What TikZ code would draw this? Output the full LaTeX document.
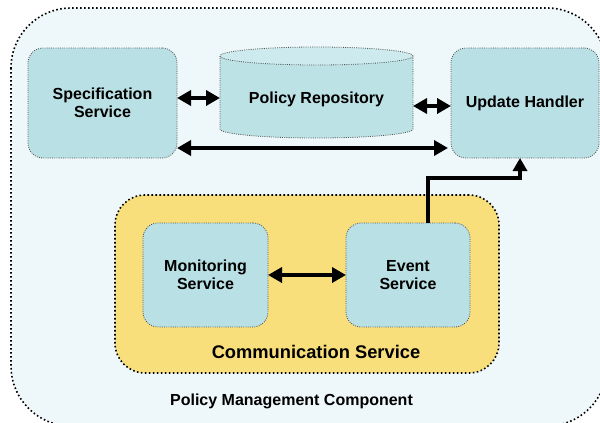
\documentclass[tikz,border=0pt]{standalone}
\usepackage{fontspec}
\setmainfont{Liberation Sans}
\usetikzlibrary{arrows.meta,calc}

\definecolor{outerfill}{HTML}{EEF7F9}
\definecolor{boxfill}{HTML}{B9E0E4}
\definecolor{cylbody}{HTML}{BDE2E6}
\definecolor{cyltop}{HTML}{CDEBEE}
\definecolor{commfill}{HTML}{F8DF7C}
\definecolor{edgegray}{HTML}{505050}

\tikzset{
  finedots/.style={draw=edgegray, line width=0.8pt, dash pattern=on 0.9pt off 1.3pt},
  svcbox/.style={finedots, fill=boxfill, rounded corners=15pt, outer sep=0pt, align=center,
    font=\fontsize{16}{18.5}\selectfont\bfseries},
  thickdots/.style={draw=black, line width=1.6pt, dash pattern=on 1.6pt off 2.4pt},
  conn/.style={line width=3.5pt, draw=black},
  twoway/.style={conn, {Triangle[length=14pt,width=15pt]}-{Triangle[length=14pt,width=15pt]}},
  oneway/.style={conn, -{Triangle[length=13pt,width=14pt]}},
  label/.style={font=\fontsize{16}{18}\selectfont\bfseries, inner sep=0pt},
}

\begin{document}
\begin{tikzpicture}[x=1pt, y=-1pt]
  \useasboundingbox (0,0) rectangle (600,423);
  \clip (0,0) rectangle (600,423);

  % outer component frame
  \path[fill=outerfill, thickdots, rounded corners=60pt] (11,8) rectangle (607,426);

  % communication service container
  \node[fill=commfill, thickdots, rounded corners=30pt, minimum width=384pt,
        minimum height=178pt, outer sep=0pt] (comm) at (307,284) {};

  % service boxes
  \node[svcbox, minimum width=149pt, minimum height=110pt] (spec) at (102.5,103)
       {Specification\\Service};
  \node[svcbox, minimum width=148pt, minimum height=110pt] (upd) at (525,103)
       {Update Handler};
  \node[svcbox, minimum width=125pt, minimum height=104pt] (mon) at (205.5,275)
       {Monitoring\\Service};
  \node[svcbox, minimum width=124pt, minimum height=104pt] (evt) at (408,275)
       {Event\\Service};

  % policy repository cylinder
  \path[fill=cylbody] (220,56) -- (220,129)
       arc[start angle=180, end angle=360, x radius=96.5pt, y radius=9pt]
       -- (413,56) -- cycle;
  \draw[finedots] (220,56) -- (220,129)
       arc[start angle=180, end angle=360, x radius=96.5pt, y radius=9pt]
       -- (413,56);
  \path[finedots, fill=cyltop] (316.5,56) ellipse[x radius=96.5pt, y radius=9pt];
  \node[minimum width=193pt, minimum height=82pt, outer sep=0pt, inner sep=0pt,
        font=\fontsize{16}{18}\selectfont\bfseries] (repo) at (316.5,99) {Policy Repository};

  % captions
  \node[label, font=\fontsize{18.3}{21}\selectfont\bfseries] (commlbl) at (316,352) {Communication Service};
  \node[label] (pmclbl) at (291.5,401) {Policy Management Component};

  % connectors
  \draw[twoway] ([yshift=5pt]spec.east) -- ([yshift=5pt]spec.east -| repo.west);
  \draw[twoway] ([yshift=-3pt]upd.west -| repo.east) -- ([yshift=-3pt]upd.west);
  \draw[twoway] ([yshift=-45pt]spec.east) -- ([yshift=-45pt,xshift=-3pt]upd.west);
  \draw[twoway] (mon.east) -- (evt.west);
  \draw[oneway] ([xshift=20pt]evt.north) |- ([xshift=-5pt,yshift=-20pt]upd.south)
       -- ([xshift=-5pt]upd.south);
\end{tikzpicture}
\end{document}
